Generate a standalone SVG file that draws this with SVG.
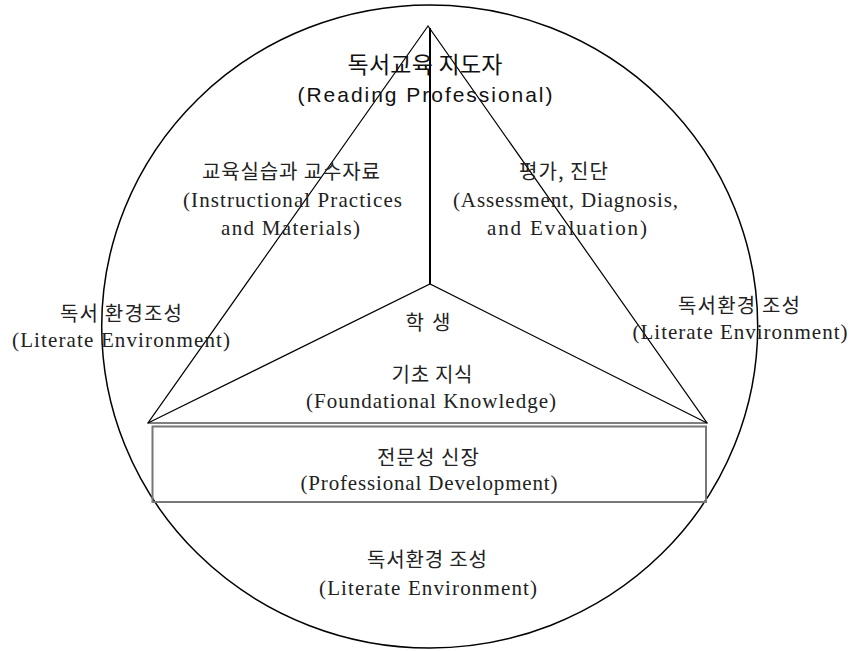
<svg xmlns="http://www.w3.org/2000/svg" width="854" height="651" viewBox="0 0 854 651">
<style>
.ln{fill:none;stroke:#000;stroke-width:1.2}
.ko{font-family:"Noto Sans CJK KR","Noto Sans",sans-serif;font-size:20px;fill:#222;text-anchor:middle}
.en{font-family:"Liberation Serif","Times New Roman",serif;font-size:21px;fill:#222;text-anchor:middle}
.ts{font-family:"Noto Sans CJK KR","Noto Sans",sans-serif;font-size:23px;fill:#111;text-anchor:middle}
.tsen{font-family:"Liberation Sans",Arial,sans-serif;font-size:21px;fill:#111;text-anchor:middle}
</style>
<rect width="854" height="651" fill="#fff"/>
<g id="circle">
<ellipse cx="429.7" cy="326.5" rx="328" ry="321.5" fill="none" stroke="#000" stroke-width="1.5"/>
</g>
<g id="connectors">
<polygon class="ln" points="428,26 148,423 707,423"/>
<line x1="430" y1="28" x2="430" y2="284" stroke="#000" stroke-width="2"/>
<polyline class="ln" points="148,423 430,284 707,423"/>
</g>
<g id="professional-development">
<rect x="152.5" y="426.5" width="553.5" height="75.5" fill="none" stroke="#777" stroke-width="2"/>
<text class="ko" x="428" y="465" textLength="102" lengthAdjust="spacing">전문성 신장</text>
<text class="en" x="429" y="490" textLength="257" lengthAdjust="spacing">(Professional Development)</text>
</g>
<g id="reading-professional">
<text class="ts" x="425" y="73" textLength="155" lengthAdjust="spacing">독서교육 지도자</text>
<text class="tsen" x="425" y="102" textLength="255" lengthAdjust="spacing">(Reading Professional)</text>
</g>
<g id="instructional">
<text class="ko" x="291" y="179" textLength="178" lengthAdjust="spacing">교육실습과 교수자료</text>
<text class="en" x="292.5" y="207" textLength="219" lengthAdjust="spacing">(Instructional Practices</text>
<text class="en" x="290.5" y="235" textLength="139" lengthAdjust="spacing">and Materials)</text>
</g>
<g id="assessment">
<text class="ko" x="563.5" y="179" textLength="89" lengthAdjust="spacing">평가, 진단</text>
<text class="en" x="565.5" y="207" textLength="225" lengthAdjust="spacing">(Assessment, Diagnosis,</text>
<text class="en" x="567" y="235" textLength="160" lengthAdjust="spacing">and Evaluation)</text>
</g>
<g id="literate-left">
<text class="ko" x="121" y="321" textLength="122" lengthAdjust="spacing">독서 환경조성</text>
<text class="en" x="121" y="347" textLength="218" lengthAdjust="spacing">(Literate Environment)</text>
</g>
<g id="literate-right">
<text class="ko" x="739" y="313" textLength="122" lengthAdjust="spacing">독서환경 조성</text>
<text class="en" x="740" y="339" textLength="215" lengthAdjust="spacing">(Literate Environment)</text>
</g>
<g id="student">
<text class="ko" x="428" y="330" textLength="45" lengthAdjust="spacing">학 생</text>
</g>
<g id="foundational">
<text class="ko" x="432" y="382" textLength="81" lengthAdjust="spacing">기초 지식</text>
<text class="en" x="431" y="408" textLength="250" lengthAdjust="spacing">(Foundational Knowledge)</text>
</g>
<g id="literate-bottom">
<text class="ko" x="427" y="567" textLength="120" lengthAdjust="spacing">독서환경 조성</text>
<text class="en" x="428" y="595" textLength="218" lengthAdjust="spacing">(Literate Environment)</text>
</g>
</svg>
